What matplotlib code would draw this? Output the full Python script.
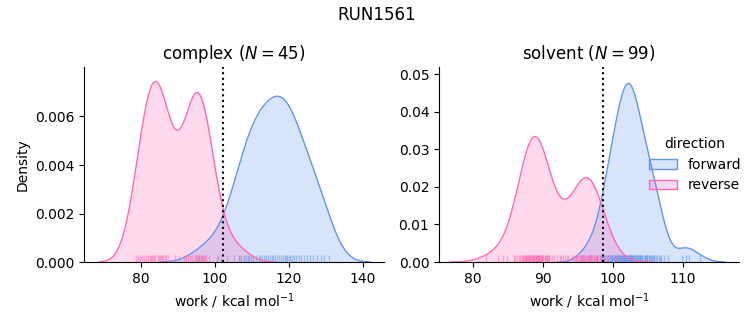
import numpy as np
import matplotlib
matplotlib.use("Agg")
import matplotlib.pyplot as plt
from matplotlib.colors import to_rgba
from matplotlib.patches import Patch

complex_forward = [
    96.3, 100.9, 103.2, 105.1, 106.4, 107.1, 107.8, 108.3, 108.8, 109.3,
    109.8, 110.4, 111.1, 111.8, 112.3, 112.8, 113.3, 113.8, 114.3, 114.8,
    115.3, 115.8, 116.3, 116.8, 117.3, 117.8, 118.3, 118.8, 119.3, 119.6,
    119.9, 120.4, 120.9, 121.4, 122.0, 122.6, 123.3, 124.2, 125.0, 125.8,
    126.6, 127.6, 128.6, 129.6, 130.8,
]
complex_reverse = [
    78.6, 79.2, 79.8, 80.4, 80.9, 81.4, 81.9, 82.3, 82.6, 83.0,
    83.3, 83.6, 83.9, 84.5, 84.8, 85.1, 85.4, 85.7, 86.0, 86.5,
    86.8, 87.4, 89.2, 90.4, 91.5, 92.2, 92.6, 93.3, 93.9, 94.5,
    94.8, 95.1, 95.3, 95.6, 95.8, 96.2, 96.5, 96.7, 97.0, 97.3,
    97.7, 98.4, 100.6, 101.6, 106.5,
]
solvent_forward = [
    95.6, 96.5, 97.2, 97.7, 98.1, 98.4, 98.6, 98.7, 98.9,
    99.1, 99.2, 99.3, 99.5, 99.6, 99.7, 99.8, 99.9,
    100.0, 100.1, 100.2, 100.3, 100.4, 100.5, 100.6, 100.7, 100.8, 100.9, 100.9,
    101.0, 101.1, 101.1, 101.2, 101.3, 101.4, 101.4, 101.5, 101.6, 101.7, 101.7,
    101.8, 101.9, 101.9,
    102.0, 102.1, 102.1, 102.2, 102.2, 102.3, 102.3, 102.4, 102.5, 102.5, 102.6,
    102.6, 102.7, 102.7, 102.8, 102.9, 102.9,
    103.0, 103.1, 103.2, 103.3, 103.4, 103.4, 103.5, 103.6, 103.7, 103.8, 103.9, 103.9,
    104.0, 104.1, 104.2, 104.4, 104.5, 104.6, 104.7, 104.8, 104.9,
    105.1, 105.2, 105.3, 105.4, 105.6, 105.7, 105.8, 105.9,
    106.1, 106.3, 106.5, 106.7, 106.9, 107.3, 107.8,
    109.9, 110.4, 110.8, 112.4,
]
solvent_reverse = [
    81.8, 83.6, 84.3, 84.8,
    85.8, 86.0, 86.3, 86.5, 86.7, 86.9, 87.0, 87.1, 87.2,
    87.4, 87.5, 87.6, 87.6, 87.7, 87.8, 87.9, 88.0, 88.0,
    88.1, 88.2, 88.3, 88.4, 88.5, 88.6, 88.6, 88.7, 88.7, 88.8, 88.9, 88.9,
    89.0, 89.1, 89.2, 89.3, 89.3, 89.4, 89.5, 89.6, 89.7, 89.8, 89.8,
    89.9, 90.0, 90.2, 90.3, 90.4, 90.5, 90.6, 90.7,
    90.8, 90.9, 91.3, 91.5, 92.0, 92.4, 92.6, 92.9,
    93.1, 93.4, 93.6, 94.1, 94.3, 94.5, 94.7, 94.8, 95.0, 95.2,
    95.3, 95.4, 95.6, 95.7, 95.8, 95.9, 96.0,
    96.1, 96.3, 96.4, 96.5, 96.5, 96.7, 96.8, 96.9,
    97.0, 97.2, 97.3, 97.5, 97.6, 97.7,
    97.9, 98.1, 98.3, 98.6, 98.8, 99.2, 100.4,
]
# free energy estimates (dotted lines)
dg_complex = 102.2
dg_solvent = 98.6

COLORS = {'forward': 'cornflowerblue', 'reverse': 'hotpink'}

phases = {
    'complex': {'forward': np.array(complex_forward), 'reverse': np.array(complex_reverse)},
    'solvent': {'forward': np.array(solvent_forward), 'reverse': np.array(solvent_reverse)},
}
dg = {'complex': dg_complex, 'solvent': dg_solvent}
total = sum(len(v) for p in phases.values() for v in p.values())


def kde(samples, total):
    # gaussian kde, scott bandwidth, normalised over all samples (like common_norm)
    h = samples.std(ddof=1) * len(samples) ** (-0.2)
    grid = np.linspace(samples.min() - 3 * h, samples.max() + 3 * h, 200)
    z = (grid[:, None] - samples[None, :]) / h
    dens = np.exp(-0.5 * z ** 2).sum(axis=1) / (np.sqrt(2 * np.pi) * h * total)
    return grid, dens


fig = plt.figure(figsize=(7.53, 3.25), dpi=100)
axes = [fig.add_axes([0.1116, 0.1938, 0.3984, 0.6]),
        fig.add_axes([0.583, 0.1938, 0.3984, 0.6])]
xlims = {'complex': (64.6, 145.7), 'solvent': (75.1, 118.0)}
ylims = {'complex': (0, 0.00804), 'solvent': (0, 0.0519)}

for ax, phase in zip(axes, ['complex', 'solvent']):
    for direction in ['forward', 'reverse']:
        w = phases[phase][direction]
        c = COLORS[direction]
        x, y = kde(w, total)
        ax.fill_between(x, y, color=c, alpha=0.25, lw=0)
        ax.plot(x, y, color=c, lw=1)
        ax.vlines(w, 0, 0.035, transform=ax.get_xaxis_transform(), colors=c, alpha=0.5, lw=1)
    ax.axvline(dg[phase], color='k', ls=':', lw=1.5)
    n = len(phases[phase]['forward'])
    ax.set_title(f'{phase} ($N = {n}$)')
    ax.set_xlabel('work / kcal mol$^{-1}$')
    ax.set_xlim(*xlims[phase])
    ax.set_ylim(*ylims[phase])
    ax.spines['top'].set_visible(False)
    ax.spines['right'].set_visible(False)

axes[0].set_ylabel('Density')
axes[0].set_yticks([0, 0.002, 0.004, 0.006])
axes[0].set_xticks([80, 100, 120, 140])
axes[1].set_xticks([80, 90, 100, 110])

handles = [Patch(facecolor=to_rgba(COLORS[d], 0.25), edgecolor=COLORS[d], label=d)
           for d in ['forward', 'reverse']]
axes[1].legend(handles=handles, title='direction', loc='center right',
               bbox_to_anchor=(1.05, 0.5), frameon=False)

fig.suptitle('RUN1561')
fig.savefig('out.png', dpi=100)
